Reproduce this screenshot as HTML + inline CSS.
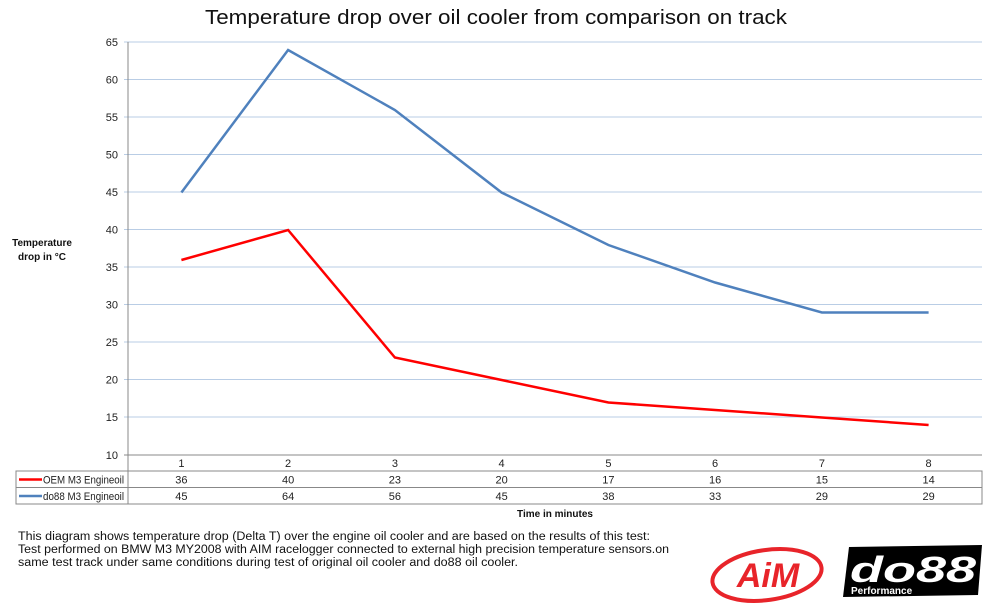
<!DOCTYPE html><html><head><meta charset="utf-8"><style>body{margin:0;background:#fff}svg{display:block;font-family:"Liberation Sans",sans-serif}</style></head><body>
<svg width="1000" height="613" viewBox="0 0 1000 613">
<text x="205" y="24" font-size="20" fill="#111" textLength="582" lengthAdjust="spacingAndGlyphs">Temperature drop over oil cooler from comparison on track</text>
<g stroke="#b9cde5" stroke-width="1">
<line x1="124" x2="982" y1="42" y2="42"/><line x1="124" x2="982" y1="79.5" y2="79.5"/><line x1="124" x2="982" y1="117" y2="117"/><line x1="124" x2="982" y1="154.5" y2="154.5"/><line x1="124" x2="982" y1="192" y2="192"/><line x1="124" x2="982" y1="229.5" y2="229.5"/><line x1="124" x2="982" y1="267" y2="267"/><line x1="124" x2="982" y1="304.5" y2="304.5"/><line x1="124" x2="982" y1="342" y2="342"/><line x1="124" x2="982" y1="379.5" y2="379.5"/><line x1="124" x2="982" y1="417" y2="417"/></g>
<g stroke="#888" stroke-width="1" fill="none"><line x1="124" x2="982" y1="455" y2="455"/><line x1="128" x2="128" y1="42" y2="504"/>
<rect x="16" y="471" width="966" height="33"/><line x1="16" x2="982" y1="487.5" y2="487.5"/></g>
<g font-size="11" fill="#222" text-anchor="end">
<text x="118" y="46">65</text><text x="118" y="83.5">60</text><text x="118" y="121">55</text><text x="118" y="158.5">50</text><text x="118" y="196">45</text><text x="118" y="233.5">40</text><text x="118" y="271">35</text><text x="118" y="308.5">30</text><text x="118" y="346">25</text><text x="118" y="383.5">20</text><text x="118" y="421">15</text><text x="118" y="459">10</text></g>
<g font-size="10" font-weight="bold" fill="#111" text-anchor="middle"><text x="42" y="246">Temperature</text><text x="42" y="260">drop in °C</text><text x="555" y="517">Time in minutes</text></g>
<polyline fill="none" stroke="#4f81bd" stroke-width="2.5" points="181.4,192.5 288.1,50 394.9,110 501.6,192.5 608.4,245 715.1,282.5 821.9,312.5 928.6,312.5"/>
<polyline fill="none" stroke="#ff0000" stroke-width="2.5" points="181.4,260 288.1,230 394.9,357.5 501.6,380 608.4,402.5 715.1,410 821.9,417.5 928.6,425"/>
<line x1="19" x2="42" y1="479.5" y2="479.5" stroke="#ff0000" stroke-width="2.5"/><line x1="19" x2="42" y1="496" y2="496" stroke="#4f81bd" stroke-width="2.5"/>
<g font-size="11" fill="#222"><text x="43" y="483.5" textLength="81" lengthAdjust="spacingAndGlyphs">OEM M3 Engineoil</text><text x="43" y="500" textLength="81" lengthAdjust="spacingAndGlyphs">do88 M3 Engineoil</text></g>
<g font-size="11" fill="#222" text-anchor="middle">
<text x="181.4" y="467">1</text><text x="288.1" y="467">2</text><text x="394.9" y="467">3</text><text x="501.6" y="467">4</text><text x="608.4" y="467">5</text><text x="715.1" y="467">6</text><text x="821.9" y="467">7</text><text x="928.6" y="467">8</text>
<text x="181.4" y="483.5">36</text><text x="288.1" y="483.5">40</text><text x="394.9" y="483.5">23</text><text x="501.6" y="483.5">20</text><text x="608.4" y="483.5">17</text><text x="715.1" y="483.5">16</text><text x="821.9" y="483.5">15</text><text x="928.6" y="483.5">14</text>
<text x="181.4" y="500">45</text><text x="288.1" y="500">64</text><text x="394.9" y="500">56</text><text x="501.6" y="500">45</text><text x="608.4" y="500">38</text><text x="715.1" y="500">33</text><text x="821.9" y="500">29</text><text x="928.6" y="500">29</text></g>
<g font-size="11.5" fill="#111"><text x="18" y="540" textLength="632" lengthAdjust="spacingAndGlyphs">This diagram shows temperature drop (Delta T) over the engine oil cooler and are based on the results of this test:</text><text x="18" y="553" textLength="651" lengthAdjust="spacingAndGlyphs">Test performed on BMW M3 MY2008 with AIM racelogger connected to external high precision temperature sensors.on</text><text x="18" y="566" textLength="500" lengthAdjust="spacingAndGlyphs">same test track under same conditions during test of original oil cooler and do88 oil cooler.</text></g>
<ellipse cx="767" cy="575" rx="55" ry="25" fill="none" stroke="#e8242a" stroke-width="4" transform="rotate(-8 767 575)"/>
<text x="768" y="587" font-size="34" font-weight="bold" font-style="italic" fill="#e8242a" text-anchor="middle">AiM</text>
<polygon points="849,547 982,545 978,595 843,597" fill="#000"/>
<text x="850" y="582" font-size="36" font-weight="bold" font-style="italic" fill="#fff" textLength="126" lengthAdjust="spacingAndGlyphs">do88</text>
<text x="851" y="594" font-size="10" font-weight="bold" fill="#fff">Performance</text>
</svg></body></html>
